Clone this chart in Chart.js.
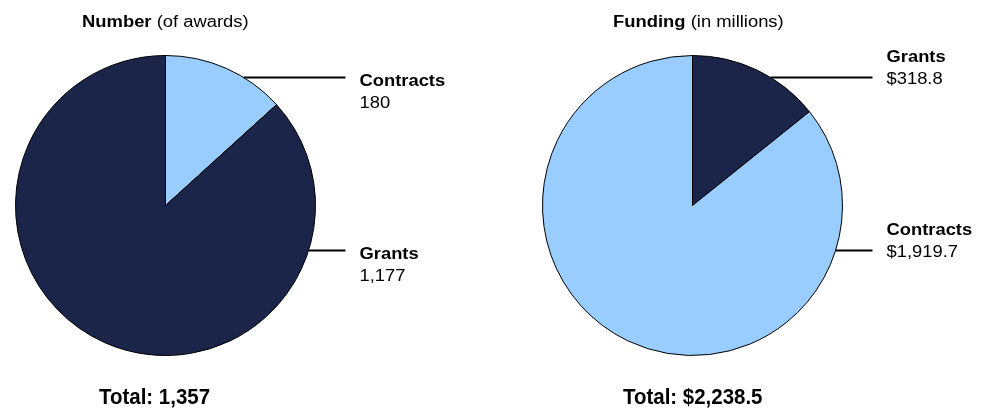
<!DOCTYPE html>
<html>
<head>
<meta charset="utf-8">
<script src="https://cdn.jsdelivr.net/npm/chart.js@4.4.1/dist/chart.umd.min.js"></script>
<style>
  html, body { margin: 0; padding: 0; background: #fff; }
  #wrap { position: relative; width: 987px; height: 409px; }
  #wrap canvas { position: absolute; left: 0; top: 0; }
</style>
</head>
<body>
<div id="wrap">
  <canvas id="pie-number" width="987" height="409"></canvas>
  <canvas id="pie-funding" width="987" height="409"></canvas>
</div>
<script>
// datos
const numberLabels = ['Contracts', 'Grants'];
const numberValues = [180, 1177];
const fundingLabels = ['Grants', 'Contracts'];
const fundingValues = [318.8, 1919.7];

const DARK = '#1a2549';
const LIGHT = '#99ccff';
const FONT = '"Liberation Sans", Arial, sans-serif';

const fmtNumber = v => Number(v).toLocaleString('en-US');
const fmtMoney = v => '$' + Number(v).toLocaleString('en-US', { minimumFractionDigits: 1, maximumFractionDigits: 1 });

// ajustes de cada grafica (fuera de options para que Chart.js no los resuelva)
const extras = {
    'pie-number': {
        titleBold: 'Number', titleRest: ' (of awards)', titleDx: -83.5, totalDx: -66.5,
        lineDy: [-128, 45], textDy: 8, fmt: fmtNumber
    },
    'pie-funding': {
        titleBold: 'Funding', titleRest: ' (in millions)', titleDx: -79.5, totalDx: -69.5,
        lineDy: [-128, 45], textDy: -16, fmt: fmtMoney
    }
};

// texto con escala horizontal
function drawText(ctx, txt, x, y, font, sx) {
    ctx.save();
    ctx.font = font;
    ctx.translate(x, y);
    ctx.scale(sx, 1);
    ctx.fillText(txt, 0, 0);
    ctx.restore();
    ctx.font = font;
    return ctx.measureText(txt).width * sx;
}

const labelsPlugin = {
    id: 'pieLabels',
    afterDraw(chart) {
        const o = extras[chart.canvas.id];
        const ctx = chart.ctx;
        const arc = chart.getDatasetMeta(0).data[0];
        const cx = arc.x, cy = arc.y, r = arc.outerRadius;
        const values = chart.data.datasets[0].data;
        const labels = chart.data.labels;

        ctx.save();
        ctx.fillStyle = '#000';
        ctx.textAlign = 'left';
        ctx.textBaseline = 'alphabetic';

        // titulo
        const w = drawText(ctx, o.titleBold, cx + o.titleDx, 26.5, 'bold 16px ' + FONT, 1.15);
        drawText(ctx, o.titleRest, cx + o.titleDx + w, 26.5, '16px ' + FONT, 1.15);

        // total
        const total = values.reduce((a, b) => a + b, 0);
        drawText(ctx, 'Total: ' + o.fmt(total), cx + o.totalDx, 404, 'bold 22px ' + FONT, 0.93);

        // lineas guia y etiquetas
        labels.forEach((lab, i) => {
            const dy = o.lineDy[i];
            const ly = cy + dy;
            const lx = cx + Math.sqrt(r * r - dy * dy);
            ctx.strokeStyle = '#000';
            ctx.lineWidth = 2;
            ctx.beginPath();
            ctx.moveTo(lx, ly);
            ctx.lineTo(cx + 180, ly);
            ctx.stroke();
            const ty = ly + o.textDy;
            drawText(ctx, lab, cx + 194, ty, 'bold 17px ' + FONT, 1.08);
            drawText(ctx, o.fmt(values[i]), cx + 194, ty + 22, '17px ' + FONT, 1.08);
        });
        ctx.restore();
    }
};

function crearPie(id, labels, values, colors, padLeft) {
    return new Chart(document.getElementById(id), {
        type: 'pie',
        data: {
            labels: labels,
            datasets: [{
                data: values,
                backgroundColor: colors,
                borderColor: '#000',
                borderWidth: 1
            }]
        },
        options: {
            responsive: false,
            animation: false,
            events: [],
            layout: { padding: { left: padLeft, top: 55, right: 987 - padLeft - 301, bottom: 409 - 55 - 301 } },
            plugins: {
                legend: { display: false },
                tooltip: { enabled: false }
            }
        },
        plugins: [labelsPlugin]
    });
}

crearPie('pie-number', numberLabels, numberValues, [LIGHT, DARK], 15);
crearPie('pie-funding', fundingLabels, fundingValues, [DARK, LIGHT], 542);
</script>
</body>
</html>
